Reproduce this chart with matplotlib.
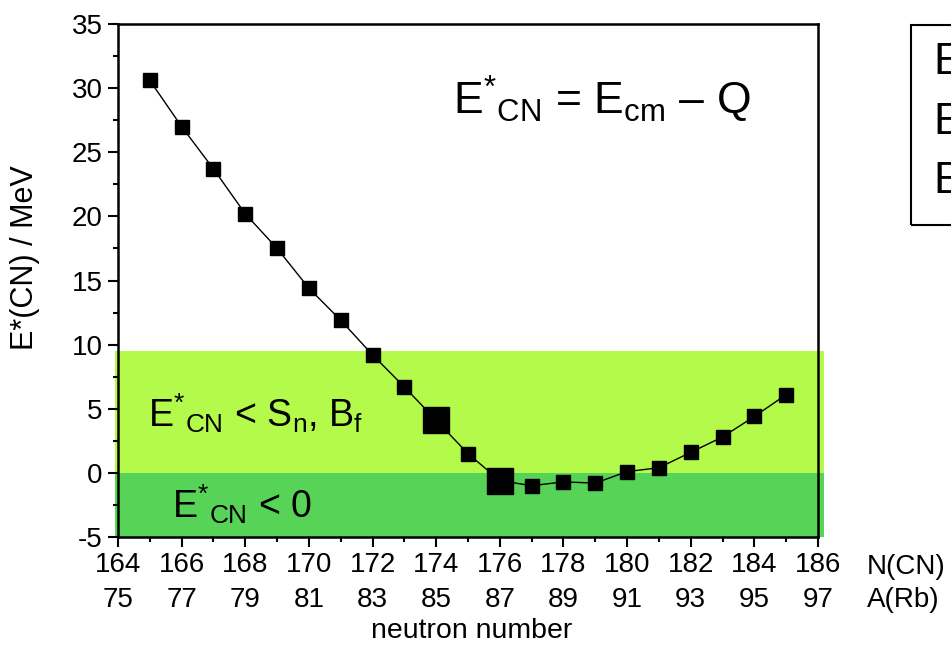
import matplotlib

matplotlib.use("Agg")
import matplotlib.pyplot as plt
import matplotlib.transforms as mtransforms
from matplotlib.patches import Rectangle
from matplotlib.ticker import MultipleLocator

plt.rcParams["font.family"] = ["Liberation Sans", "DejaVu Sans"]
plt.rcParams["mathtext.fontset"] = "custom"
plt.rcParams["mathtext.rm"] = "Liberation Sans"
plt.rcParams["mathtext.it"] = "Liberation Sans:italic"
plt.rcParams["mathtext.bf"] = "Liberation Sans:bold"
plt.rcParams["axes.unicode_minus"] = False

# --- data ---
n_cn = [165, 166, 167, 168, 169, 170, 171, 172, 173, 174, 175,
        176, 177, 178, 179, 180, 181, 182, 183, 184, 185]
e_star = [30.6, 27.0, 23.7, 20.2, 17.5, 14.4, 11.9, 9.2, 6.7, 4.1, 1.5,
          -0.6, -1.0, -0.7, -0.8, 0.1, 0.4, 1.6, 2.8, 4.4, 6.1]
big_n = [174, 176]
big_e = [4.1, -0.6]

x_ticks = list(range(164, 187, 2))
a_rb = [n - 89 for n in x_ticks]
band_sn = 9.5

COLOR_LIGHT = "#b4fa4a"
COLOR_DARK = "#57d457"

fig = plt.figure(figsize=(9.51, 6.49), dpi=100)
ax = fig.add_axes([118 / 951, 1 - 537 / 649, 700 / 951, 513 / 649])

ax.set_xlim(164, 186)
ax.set_ylim(-5, 35)

# coloured bands
ax.add_patch(Rectangle((163.9, 0), 22.3, band_sn, color=COLOR_LIGHT, lw=0, zorder=0, clip_on=False))
ax.add_patch(Rectangle((163.9, -5), 22.3, 5, color=COLOR_DARK, lw=0, zorder=0, clip_on=False))

ax.plot(n_cn, e_star, color="black", lw=1.0, marker="s", ms=10, mec="black", mfc="black", zorder=3)
ax.plot(big_n, big_e, ls="none", marker="s", ms=19, color="black", zorder=4)

for side in ["left", "bottom", "top", "right"]:
    ax.spines[side].set_linewidth(1.8)
    ax.spines[side].set_zorder(5)

ax.xaxis.set_major_locator(MultipleLocator(2))
ax.xaxis.set_minor_locator(MultipleLocator(1))
ax.yaxis.set_major_locator(MultipleLocator(5))
ax.yaxis.set_minor_locator(MultipleLocator(2.5))
ax.tick_params(which="major", direction="out", length=7, width=1.5, labelsize=20, pad=4)
ax.tick_params(which="minor", direction="out", length=3.5, width=1.5)
ax.tick_params(axis="x", which="major", pad=4)

ax.set_xticks(x_ticks)
ax.set_xticklabels([str(n) for n in x_ticks])

# second row: A(Rb)
trans = mtransforms.blended_transform_factory(ax.transData, ax.transAxes)
for n, a in zip(x_ticks, a_rb):
    ax.text(n, -0.123, str(a), transform=trans, ha="center", va="center", fontsize=20)

ax.text(1.07, -0.058, "N(CN)", transform=ax.transAxes, ha="left", va="center", fontsize=20)
ax.text(1.07, -0.123, "A(Rb)", transform=ax.transAxes, ha="left", va="center", fontsize=20)

fig.text(472 / 951, 1 - 631 / 649, "neutron number", ha="center", va="center", fontsize=20.5)
fig.text(25 / 951, 1 - 258 / 649, "E*(CN) / MeV", ha="center", va="center", rotation=90, fontsize=22)

# annotations
fig.text(453 / 951, 1 - 115 / 649, r"E$^{*}{}_{\mathrm{CN}}$ = E$_{\mathrm{cm}}$ – Q",
         ha="left", va="baseline", fontsize=32)
fig.text(148 / 951, 1 - 427 / 649, r"E$^{*}{}_{\mathrm{CN}}$ < S$_{\mathrm{n}}$, B$_{\mathrm{f}}$",
         ha="left", va="baseline", fontsize=27)
fig.text(172 / 951, 1 - 518 / 649, r"E$^{*}{}_{\mathrm{CN}}$ < 0",
         ha="left", va="baseline", fontsize=27)

# box cut by the right edge
fig.patches.append(Rectangle((911 / 951, 1 - 225 / 649), 0.2, 200 / 649, transform=fig.transFigure,
                             fill=False, lw=1.5, ec="black"))
for yy in [63, 123, 182]:
    fig.text(933 / 951, 1 - yy / 649, "E", ha="left", va="center", fontsize=32)

fig.savefig("out.png", dpi=100)
